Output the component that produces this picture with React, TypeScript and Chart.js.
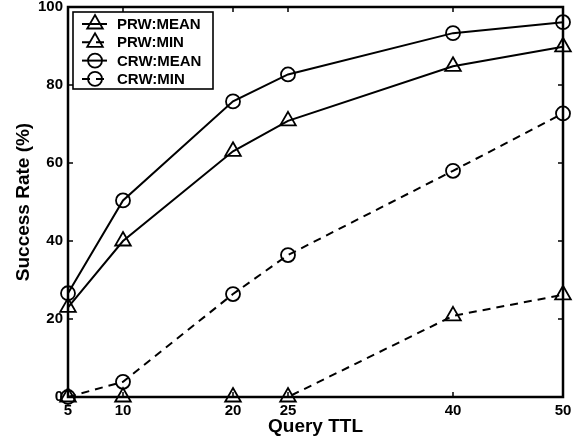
import React, { useEffect, useRef } from "react";
import { Chart, registerables } from "chart.js";

Chart.register(...registerables);

const xValues = [5, 10, 20, 25, 40, 50];
const xTicks = [5, 10, 20, 25, 40, 50];
const yTicks = [0, 20, 40, 60, 80, 100];
const prwMean = [23, 40, 63, 70.8, 84.8, 89.8];
const prwMin = [0, 0, 0, 0, 20.8, 26.2];
const crwMean = [26.6, 50.4, 75.8, 82.7, 93.3, 96.1];
const crwMin = [0, 3.9, 26.4, 36.4, 58, 72.7];
const seriesLabels = ["PRW:MEAN", "PRW:MIN", "CRW:MEAN", "CRW:MIN"];

const FONT = "'Liberation Sans', Arial, Helvetica, sans-serif";

const boxPlugin = {
  id: "boxAndTicks",
  afterDraw(chart: any) {
    const { ctx, chartArea } = chart;
    const { left, right, top, bottom } = chartArea;
    const xs = chart.scales.x;
    const ys = chart.scales.y;
    ctx.save();
    ctx.strokeStyle = "#000";
    ctx.lineWidth = 1.5;
    ctx.beginPath();
    xTicks.forEach((v) => {
      const px = xs.getPixelForValue(v);
      ctx.moveTo(px, bottom);
      ctx.lineTo(px, bottom - 5);
      ctx.moveTo(px, top);
      ctx.lineTo(px, top + 5);
    });
    yTicks.forEach((v) => {
      const py = ys.getPixelForValue(v);
      ctx.moveTo(left, py);
      ctx.lineTo(left + 5, py);
      ctx.moveTo(right, py);
      ctx.lineTo(right - 5, py);
    });
    ctx.stroke();
    ctx.lineWidth = 2.5;
    ctx.strokeRect(left, top, right - left, bottom - top);

    // legend
    const lx = left + 5;
    const ly = top + 5;
    const lw = 140;
    const lh = 77;
    ctx.fillStyle = "#fff";
    ctx.fillRect(lx, ly, lw, lh);
    ctx.lineWidth = 1.6;
    ctx.strokeRect(lx, ly, lw, lh);
    chart.data.datasets.forEach((ds: any, i: number) => {
      const cy = ly + 12 + i * 18.3;
      const x0 = lx + 9;
      const x1 = lx + 34;
      const mx = lx + 22;
      ctx.strokeStyle = "#000";
      ctx.lineWidth = 2;
      ctx.setLineDash(ds.borderDash || []);
      ctx.beginPath();
      ctx.moveTo(x0, cy);
      ctx.lineTo(x1, cy);
      ctx.stroke();
      ctx.setLineDash([]);
      ctx.lineWidth = 1.8;
      ctx.beginPath();
      if (ds.pointStyle === "triangle") {
        const r = 9;
        ctx.moveTo(mx, cy - r);
        ctx.lineTo(mx + 0.866 * r, cy + 0.5 * r);
        ctx.lineTo(mx - 0.866 * r, cy + 0.5 * r);
        ctx.closePath();
      } else {
        ctx.arc(mx, cy, 7, 0, Math.PI * 2);
      }
      ctx.stroke();
      ctx.fillStyle = "#000";
      ctx.font = `bold 15px ${FONT}`;
      ctx.textAlign = "left";
      ctx.textBaseline = "middle";
      ctx.fillText(ds.label, lx + 44, cy + 1);
    });
    ctx.restore();
  },
};

export default function App() {
  const ref = useRef<HTMLCanvasElement | null>(null);
  useEffect(() => {
    document.body.style.margin = "0";
    const mk = (label: string, data: number[], style: string, dashed: boolean) => ({
      label,
      data: xValues.map((x, i) => ({ x, y: data[i] })),
      borderColor: "#000",
      borderWidth: 2,
      borderDash: dashed ? [8, 6] : [],
      pointStyle: style,
      pointRadius: style === "triangle" ? 9 : 7,
      pointBorderWidth: 1.8,
      pointBorderColor: "#000",
      pointBackgroundColor: "rgba(0,0,0,0)",
      fill: false,
      tension: 0,
      clip: false as any,
    });
    const chart = new Chart(ref.current!, {
      type: "line",
      data: {
        datasets: [
          mk(seriesLabels[0], prwMean, "triangle", false),
          mk(seriesLabels[1], prwMin, "triangle", true),
          mk(seriesLabels[2], crwMean, "circle", false),
          mk(seriesLabels[3], crwMin, "circle", true),
        ],
      },
      options: {
        animation: false,
        responsive: false,
        devicePixelRatio: 1,
        layout: { autoPadding: false, padding: { top: 7, right: 16, left: 0, bottom: 0 } },
        plugins: { legend: { display: false }, tooltip: { enabled: false } },
        scales: {
          x: {
            type: "linear",
            min: 5,
            max: 50,
            afterBuildTicks: (s: any) => {
              s.ticks = xTicks.map((v) => ({ value: v }));
            },
            afterFit: (s: any) => {
              s.height = 45;
              s.paddingLeft = 0;
              s.paddingRight = 0;
            },
            grid: { display: false, drawTicks: false },
            border: { display: false },
            ticks: {
              color: "#000",
              padding: 5,
              maxRotation: 0,
              autoSkip: false,
              font: { family: FONT, size: 15, weight: "bold" },
            },
            title: {
              display: true,
              text: "Query TTL",
              color: "#000",
              font: { family: FONT, size: 19, weight: "bold" },
              padding: { top: 0, bottom: 4 },
            },
          },
          y: {
            type: "linear",
            min: 0,
            max: 100,
            afterBuildTicks: (s: any) => {
              s.ticks = yTicks.map((v) => ({ value: v }));
            },
            afterFit: (s: any) => {
              s.width = 68;
              s.paddingTop = 0;
              s.paddingBottom = 0;
            },
            grid: { display: false, drawTicks: false },
            border: { display: false },
            ticks: {
              color: "#000",
              padding: 5,
              font: { family: FONT, size: 15, weight: "bold" },
            },
            title: {
              display: true,
              text: "Success Rate (%)",
              color: "#000",
              font: { family: FONT, size: 19, weight: "bold" },
              padding: { top: 12, bottom: 0 },
            },
          },
        },
      } as any,
      plugins: [boxPlugin],
    });
    return () => chart.destroy();
  }, []);
  return (
    <div style={{ position: "absolute", left: 0, top: 0, width: 579, height: 442, background: "#fff" }}>
      <canvas ref={ref} width={579} height={442} style={{ width: 579, height: 442 }} />
    </div>
  );
}
